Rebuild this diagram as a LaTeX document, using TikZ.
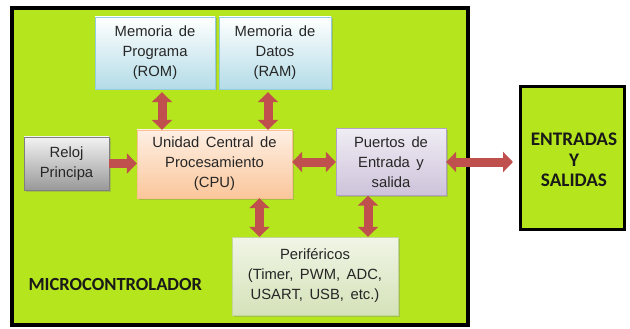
\documentclass[tikz,border=0pt]{standalone}
\usepackage{fontspec}
\setmainfont{Liberation Sans}
\newfontfamily\calibri{Carlito}
\usetikzlibrary{arrows.meta, positioning, calc, shadows}
\definecolor{chipgreen}{RGB}{181,230,29}
\definecolor{busred}{RGB}{192,80,77}
\definecolor{memblue}{RGB}{147,205,221}
\definecolor{cpupeach}{RGB}{250,192,144}
\definecolor{portlilac}{RGB}{179,162,199}
\definecolor{perigreen}{RGB}{195,214,155}
\definecolor{clockgray}{RGB}{127,127,127}
\newcommand\blockfont{\fontsize{14.8}{20}\selectfont\spaceskip=6.5pt\relax}
\tikzset{
    block/.style={rectangle, align=center, inner sep=2pt, text=black!85, font=\blockfont, drop shadow={shadow xshift=1.5pt, shadow yshift=-1.5pt, opacity=0.35}},
    memoria/.style={block, draw=memblue, top color=white, bottom color=memblue!70, minimum height=72pt},
    reloj/.style={block, draw=clockgray, top color=white!95!black, bottom color=black!40, minimum width=85pt, minimum height=53pt},
    cpu/.style={block, draw=cpupeach, top color=cpupeach!25, bottom color=cpupeach!90, minimum width=155pt, minimum height=68pt},
    puertos/.style={block, draw=portlilac, top color=portlilac!20, bottom color=portlilac!65, minimum width=110pt, minimum height=67pt},
    perif/.style={block, draw=perigreen, top color=perigreen!25, bottom color=perigreen!70, minimum width=166pt, minimum height=78pt},
    rotulo/.style={font=\calibri\bfseries\fontsize{18.5}{22}\selectfont, text=black!90},
    bus/.style={line width=9pt, busred, {Triangle[width=20pt,length=10pt]}-{Triangle[width=20pt,length=10pt]}},
    busuni/.style={line width=9pt, busred, -{Triangle[width=20pt,length=10pt]}},
}
\begin{document}
\begin{tikzpicture}[x=1pt, y=-1pt]
    \useasboundingbox (0,0) rectangle (630,329);
    % chip and outside block
    \draw[line width=4pt, fill=chipgreen] (12,8) rectangle (468,325);
    \draw[line width=3pt, fill=chipgreen] (520,87) rectangle (624,229);
    \node[rotulo, align=center, font=\calibri\bfseries\fontsize{19.2}{20.5}\selectfont] (es) at (574,160) {ENTRADAS\\Y\\SALIDAS};
    \node[rotulo, anchor=west] (micro) at (25,284) {MICROCONTROLADOR};

    % blocks
    \node[memoria, minimum width=120pt] (rom) at (155,53) {Memoria de\\Programa\\(ROM)};
    \node[memoria, minimum width=112pt] (ram) at (275,53) {Memoria de\\Datos\\(RAM)};
    \node[reloj] (clk) at (66.5,163.5) {Reloj\\Principa};
    \node[cpu] (cpu) at (214.5,164) {Unidad Central de\\Procesamiento\\(CPU)};
    \node[puertos] (io) at (391,162) {Puertos de\\Entrada y\\salida};
    \node[perif] (per) at (315,276) {Periféricos\\(Timer, PWM, ADC,\\USART, USB, etc.)};
    \coordinate (esw) at (520,162);

    % buses
    \draw[bus, shorten <=3pt] ([xshift=7pt]rom.south) -- ([xshift=7pt]rom.south |- cpu.north);
    \draw[bus, shorten <=3pt] ([xshift=-7pt]ram.south) -- ([xshift=-7pt]ram.south |- cpu.north);
    \draw[busuni] (clk.east) -- (clk.east -| cpu.west);
    \draw[bus] (io.west -| cpu.east) -- (io.west);
    \draw[bus, shorten >=7pt] (io.east) -- (esw);
    \draw[bus] ([xshift=45pt]cpu.south) -- ([xshift=45pt]cpu.south |- per.north);
    \draw[bus] ([xshift=-23pt]io.south) -- ([xshift=-23pt]io.south |- per.north);
\end{tikzpicture}
\end{document}
